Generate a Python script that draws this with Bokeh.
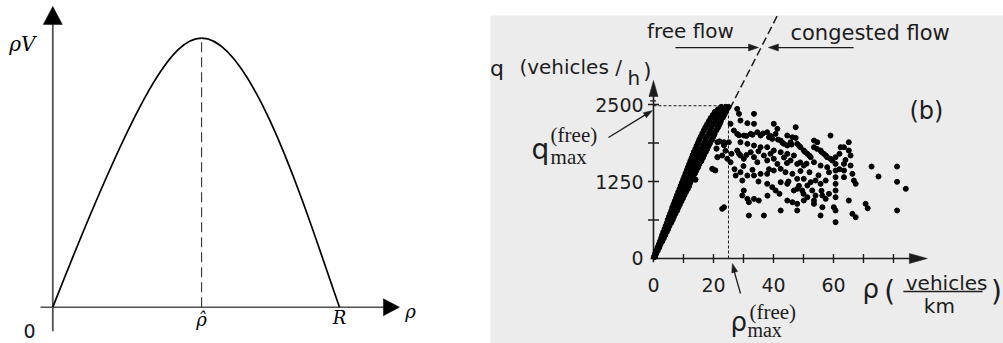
import math
from bokeh.plotting import figure
from bokeh.models import Range1d, Spacer
from bokeh.layouts import row, column
from bokeh.core.properties import value
from bokeh.embed import file_html
from bokeh.resources import INLINE

INK = "#1c1c1c"
PAPER_GREY = "#ececec"

# ---------------- left panel: flux rho*V as a function of density ----------------
R = 1.0            # jam density
rho_hat = 0.519    # density of maximum flux
flux_peak = 1.0
# rising and falling branches as cubic Bezier pieces
rise = dict(x0=[0.0], y0=[0.0], cx0=[0.30], cy0=[0.813],
            cx1=[0.42], cy1=[flux_peak], x1=[rho_hat], y1=[flux_peak])
fall = dict(x0=[rho_hat], y0=[flux_peak], cx0=[0.70], cy0=[flux_peak],
            cx1=[0.89], cy1=[0.333], x1=[R], y1=[0.0])

# ---------------- right panel: measured flow vs density ----------------
# free-flow branch (dense band from the origin to the capacity point)
rho_free = [0.2, 0.5, 0.6, 0.9, 1.0, 1.4, 1.4, 1.9, 1.8, 2.3,
            2.2, 2.6, 2.9, 2.6, 3.0, 3.4, 2.9, 3.4, 3.9, 3.3, 3.8, 4.4,
            3.7, 4.2, 4.9, 4.1, 4.7, 5.3, 4.5, 5.1, 5.9, 4.8, 5.6, 6.4,
            5.2, 5.9, 6.8, 5.6, 6.4, 7.3, 6.0, 6.8, 7.9, 6.3, 7.2, 8.3,
            6.7, 7.7, 8.8, 7.1, 8.0, 9.3, 7.5, 8.6, 9.8, 7.9, 8.9, 10.3,
            8.3, 9.4, 10.8, 8.7, 9.7, 11.4, 9.1, 10.3, 11.9, 9.5, 10.6, 12.2,
            9.9, 11.2, 12.8, 14.0, 10.3, 11.5, 13.2, 10.7, 12.1, 13.8,
            11.1, 12.4, 14.3, 11.5, 13.0, 14.8, 11.9, 13.4, 15.2,
            12.3, 13.9, 15.9, 12.7, 14.5, 16.4, 13.1, 14.9, 16.8,
            13.5, 15.5, 17.4, 14.0, 15.9, 17.9, 14.4, 16.5, 18.3,
            14.9, 16.9, 18.9, 15.3, 17.4, 19.5, 15.8, 17.8, 19.9,
            16.3, 18.5, 20.3, 16.8, 18.9, 20.9, 17.3, 19.3, 21.4,
            17.9, 19.9, 21.9, 18.5, 20.6, 22.4, 19.1, 21.0, 22.9,
            19.8, 21.7, 23.4, 20.5, 22.3, 23.8, 21.5, 23.0, 24.4,
            22.6, 24.0, 25.0,
            19.6, 21.3, 20.6, 21.0, 22.0, 23.5]
q_free = [30, 30, 80, 80, 130, 130, 180, 180, 230, 230,
          280, 280, 280, 330, 330, 330, 380, 380, 380, 430, 430, 430,
          480, 480, 480, 530, 530, 530, 580, 580, 580, 630, 630, 630,
          680, 680, 680, 730, 730, 730, 780, 780, 780, 830, 830, 830,
          880, 880, 880, 930, 930, 930, 980, 980, 980, 1030, 1030, 1030,
          1080, 1080, 1080, 1130, 1130, 1130, 1180, 1180, 1180, 1230, 1230, 1230,
          1280, 1280, 1280, 1280, 1330, 1330, 1330, 1380, 1380, 1380,
          1430, 1430, 1430, 1480, 1480, 1480, 1530, 1530, 1530,
          1580, 1580, 1580, 1630, 1630, 1630, 1680, 1680, 1680,
          1730, 1730, 1730, 1780, 1780, 1780, 1830, 1830, 1830,
          1880, 1880, 1880, 1930, 1930, 1930, 1980, 1980, 1980,
          2030, 2030, 2030, 2080, 2080, 2080, 2130, 2130, 2130,
          2180, 2180, 2180, 2230, 2230, 2230, 2280, 2280, 2280,
          2330, 2330, 2330, 2380, 2380, 2380, 2420, 2420, 2420,
          2460, 2460, 2460,
          1455, 1645, 1430, 1785, 1900, 1840]

# congested branch (scattered cloud right of the capacity point)
rho_cong = [27.9, 28.5, 33.5, 25.7, 29.0, 31.3, 33.5, 40.1, 41.3, 40.7, 47.4, 59.0,
            44.6, 46.3, 47.4, 53.5, 54.6, 65.1, 62.4, 63.5, 65.1, 65.7,
            26.8, 27.9, 30.1, 32.4, 34.6, 35.7, 37.9, 38.5, 39.6, 42.4, 43.5, 44.6,
            45.7, 47.9, 49.0, 50.1, 51.3, 52.4, 53.5, 55.7, 56.8, 57.9,
            21.3, 23.5, 25.1, 29.0, 31.3, 33.5, 35.7, 37.9, 40.1, 42.4, 44.6, 46.8,
            22.9, 24.6, 25.7, 27.9, 29.0, 30.1, 32.4, 33.5, 34.6, 36.8, 37.9, 40.1,
            41.3, 45.7, 47.9, 50.1, 53.5, 55.7, 57.9, 59.6,
            60.7, 60.7, 60.7, 60.7, 60.7, 60.7, 60.7, 63.5, 63.5, 63.5,
            65.7, 66.3, 66.8, 67.4,
            27.4, 29.0, 31.3, 33.5, 35.7, 37.9, 40.1, 42.4, 44.0, 46.3, 47.9, 50.1,
            52.4, 54.0, 55.7, 57.4,
            29.6, 30.1, 29.6, 31.3, 33.5, 35.1, 31.8, 37.9, 39.6, 40.7, 42.4, 44.6,
            46.8, 47.9, 49.6, 51.3, 52.9, 54.0, 53.5, 56.3, 57.4, 44.6, 46.3, 47.9,
            50.1, 51.3, 53.5, 56.3, 65.1, 60.1, 60.7, 60.7, 66.3, 67.4,
            22.9, 23.5, 31.8, 36.8, 42.4, 47.9, 55.7,
            28.5, 31.0, 33.0, 36.5, 39.0, 41.5, 43.0, 46.0, 48.5, 50.5, 52.0, 54.5,
            56.0, 57.5, 59.0, 24.0, 26.0, 28.5, 31.0, 35.0, 39.0, 43.5, 48.9, 51.0,
            44.5, 38.5, 33.0, 30.0, 49.0, 52.0, 55.0, 58.5, 62.0, 64.0, 62.0, 27.0,
            35.0, 45.0, 48.5, 42.0, 38.0, 50.0, 56.0, 58.5,
            72.7, 81.2, 75.0, 81.2, 84.1, 70.7, 71.4, 81.2]
q_cong = [2429, 2348, 2348, 2186, 2240, 2197, 2186, 2186, 2105, 2023, 2132, 1996,
          1996, 1969, 1958, 1915, 1888, 1888, 1807, 1807, 1753, 1672,
          2078, 2023, 1996, 2023, 2050, 1996, 2050, 1969, 1942, 1915, 1861, 1834,
          1888, 1861, 1807, 1753, 1699, 1645, 1807, 1753, 1699, 1645,
          1888, 1888, 1888, 1888, 1861, 1834, 1807, 1807, 1753, 1726, 1699, 1672,
          1672, 1618, 1563, 1753, 1672, 1618, 1726, 1645, 1563, 1672, 1591, 1618,
          1536, 1591, 1536, 1509, 1563, 1509, 1482, 1591,
          1645, 1536, 1428, 1320, 1212, 1104, 995, 1536, 1428, 1320,
          1509, 1374, 1266, 1212,
          1347, 1401, 1347, 1347, 1374, 1374, 1428, 1455, 1401, 1374, 1293, 1293,
          1239, 1266, 1212, 1266,
          1266, 1104, 1022, 968, 968, 941, 914, 1212, 1158, 1104, 1239, 1212,
          1104, 1131, 1104, 1185, 1104, 1022, 941, 1022, 968, 941, 914, 887,
          941, 995, 887, 833, 941, 833, 779, 590, 725, 671,
          806, 833, 698, 698, 779, 779, 698,
          2000, 1990, 2010, 2030, 1990, 1930, 1880, 1850, 1830, 1730, 1670, 1780,
          1730, 1670, 1620, 1750, 1700, 1700, 1680, 1740, 1700, 1640, 1560, 1540,
          1550, 1450, 1440, 1500, 1420, 1400, 1350, 1400, 1450, 1600, 1700, 1450,
          1250, 1250, 1180, 1050, 1020, 1050, 1100, 1050,
          1493, 1493, 1331, 1245, 1131, 888, 816, 779]

q_max_free = 2480      # maximum flow in free traffic
rho_max_free = 25      # density at that maximum
x_ticks = [0, 10, 20, 30, 40, 50, 60, 70, 80]
x_tick_labels = ["0", "20", "40", "60"]
y_ticks = [625, 1250, 1875, 2500]
y_tick_labels = ["0", "1250", "2500"]


def head(p, tip, direction, length, width, sx, sy, color="black"):
    """Filled triangular arrow head; direction/length/width are in screen pixels."""
    dx, dy = direction
    n = math.hypot(dx, dy)
    ux, uy = dx / n, dy / n
    bx, by = -ux * length, -uy * length
    px, py = -uy * width / 2, ux * width / 2
    xs = [tip[0], tip[0] + (bx + px) / sx, tip[0] + (bx - px) / sx]
    ys = [tip[1], tip[1] + (by + py) / sy, tip[1] + (by - py) / sy]
    p.patch(xs, ys, fill_color=color, line_color=color, line_width=0.5)


def label(p, x, y, s, size, font="DejaVu Sans", align="center", baseline="middle",
          style="normal", color=INK):
    p.text(x=[x], y=[y], text=[s], text_font=value(font),
           text_font_size=value(f"{size}px"), text_align=align,
           text_baseline=baseline, text_font_style=style, text_color=color)


def bare(p):
    p.axis.visible = False
    p.grid.visible = False
    p.outline_line_color = None
    p.min_border = 0
    p.min_border_left = p.min_border_right = 0
    p.min_border_top = p.min_border_bottom = 0


# ---------- left figure ----------
SXL, SYL = 286.7, 269.0   # pixels per unit
left = figure(width=490, height=343, output_backend="svg", toolbar_location=None,
              x_range=Range1d(-0.1824, 1.5267), y_range=Range1d(-0.135, 1.140),
              background_fill_color="white", border_fill_color="white")
bare(left)

left.segment(x0=[0], y0=[-0.089], x1=[0], y1=[1.07], line_color="#505050", line_width=1.8)
left.segment(x0=[-0.043], y0=[0], x1=[1.16], y1=[0], line_color="#505050", line_width=1.5)
head(left, (0, 1.118), (0, 1), 18, 19, SXL, SYL)
head(left, (1.209, 0), (1, 0), 16, 17, SXL, SYL)

left.segment(x0=[rho_hat], y0=[0], x1=[rho_hat], y1=[flux_peak], line_color="#333333",
             line_width=1.1, line_dash="10 5")
left.bezier(line_color="black", line_width=1.7, **rise)
left.bezier(line_color="black", line_width=1.7, **fall)

label(left, -0.106, 0.978, "ρV", 20, font="DejaVu Serif", style="italic", color="black")
label(left, rho_hat, -0.045, "ρ\u0302", 18, font="DejaVu Serif", style="italic", color="black")
label(left, R, -0.040, "R", 18, font="DejaVu Serif", style="italic", color="black")
label(left, 1.248, -0.015, "ρ", 18, font="DejaVu Serif", style="italic", color="black")
label(left, -0.081, -0.087, "0", 19, font="DejaVu Sans", color="#14141e")

# ---------- right figure ----------
SXR, SYR = 3.0, 77.0 / 1250.0
right = figure(width=513, height=328, output_backend="svg", toolbar_location=None,
               x_range=Range1d(-54.33, 116.67), y_range=Range1d(-1380, 3945),
               background_fill_color=PAPER_GREY, border_fill_color=PAPER_GREY)
bare(right)

# axes
right.segment(x0=[0], y0=[-60], x1=[0], y1=[2700], line_color=INK, line_width=1.6)
right.segment(x0=[-1], y0=[0], x1=[86], y1=[0], line_color=INK, line_width=1.6)
head(right, (0, 2890), (0, 1), 16, 9, SXR, SYR, INK)
head(right, (91.3, 0), (1, 0), 18, 10, SXR, SYR, INK)

tx = [t for t in x_ticks if t > 0]
right.segment(x0=tx, y0=[-4.5 / SYR] * len(tx), x1=tx, y1=[4.5 / SYR] * len(tx),
              line_color=INK, line_width=1.4)
right.segment(x0=[-5.5 / SXR] * len(y_ticks), y0=y_ticks, x1=[5.5 / SXR] * len(y_ticks),
              y1=y_ticks, line_color=INK, line_width=1.4)
right.segment(x0=[-3.5 / SXR], y0=[2560], x1=[2.5 / SXR], y1=[2560], line_color=INK, line_width=1.2)

# guide lines
right.segment(x0=[0], y0=[q_max_free], x1=[rho_max_free], y1=[q_max_free], line_color=INK,
              line_width=1.0, line_dash="3 2")
right.segment(x0=[rho_max_free], y0=[0], x1=[rho_max_free], y1=[q_max_free], line_color=INK,
              line_width=1.0, line_dash="3 2")
right.segment(x0=[0], y0=[0], x1=[41.3], y1=[3945], line_color=INK, line_width=1.5,
              line_dash="8 4")

# measurements
right.scatter(rho_free, q_free, size=5.2, color="black")
right.scatter(rho_cong, q_cong, size=5.0, color="black")

# tick labels
for t, s in zip([0, 1250, 2500], y_tick_labels):
    label(right, -3.3, t, s, 19, align="right")
for t, s in zip([0, 20, 40, 60], x_tick_labels):
    label(right, t, -438, s, 19)

# regime annotations
label(right, 12.3, 3700, "free flow", 20)
label(right, 72.2, 3668, "congested flow", 21)
right.segment(x0=[7.3], y0=[3425], x1=[33], y1=[3425], line_color=INK, line_width=1.3)
head(right, (35.0, 3425), (1, 0), 10, 7, SXR, SYR, INK)
right.segment(x0=[66.7], y0=[3425], x1=[40.3], y1=[3425], line_color=INK, line_width=1.3)
head(right, (38.3, 3425), (-1, 0), 10, 7, SXR, SYR, INK)

label(right, 91, 2402, "(b)", 24)

# y-axis title
label(right, -54.5, 3078, "q", 22, align="left")
label(right, -44.7, 3110, "(vehicles /", 20, align="left")
label(right, -8.7, 2930, "h", 20, align="left")
label(right, -3.4, 3052, ")", 21, align="left")

# q_max annotation
label(right, -40.7, 1776, "q", 28, align="left")
label(right, -34.3, 2002, "(free)", 21, font="Liberation Serif", align="left")
label(right, -34.3, 1644, "max", 21, font="Liberation Serif", align="left")
right.segment(x0=[-15], y0=[1964], x1=[-2.5], y1=[2340], line_color=INK, line_width=1.3)
head(right, (-0.33, 2402), (44, 27), 9, 6, SXR, SYR, INK)

# rho_max annotation
label(right, 25.7, -1039, "ρ", 26, align="left")
label(right, 32.0, -872, "(free)", 21, font="Liberation Serif", align="left")
label(right, 31.3, -1164, "max", 20, font="Liberation Serif", align="left")
right.segment(x0=[29], y0=[-568], x1=[26.8], y1=[-190], line_color=INK, line_width=1.3)
head(right, (26.3, -81), (-8, 30), 9, 6, SXR, SYR, INK)

# x-axis title
label(right, 69.7, -503, "ρ", 26, align="left")
label(right, 78.7, -536, "(", 28)
label(right, 97.7, -390, "vehicles", 20)
right.segment(x0=[83.3], y0=[-536], x1=[109.7], y1=[-536], line_color=INK, line_width=1.3)
label(right, 95.3, -779, "km", 20)
label(right, 114.3, -536, ")", 28)

layout = row(left, column(Spacer(width=513, height=15), right))
open("out.html", "w").write(file_html(layout, INLINE))
